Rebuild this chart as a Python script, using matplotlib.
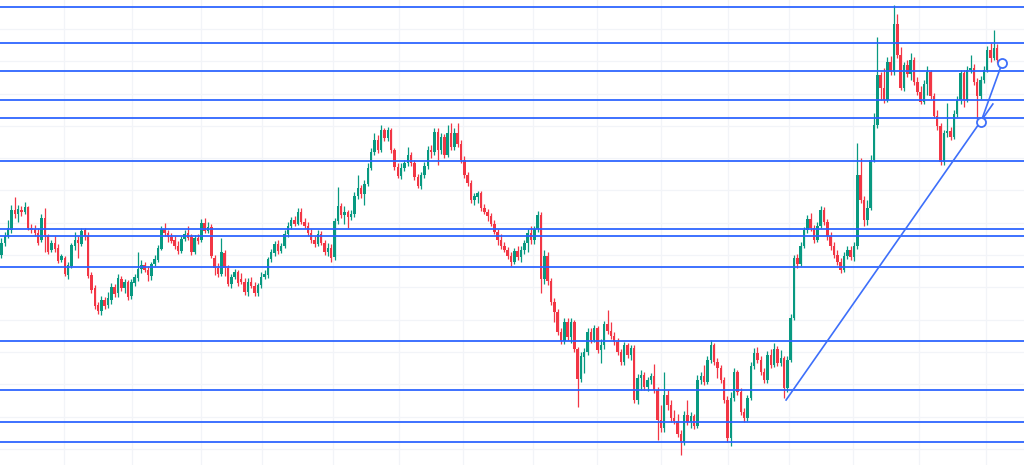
import matplotlib
matplotlib.use("Agg")
import matplotlib.pyplot as plt
import numpy as np

# candle data, price levels measured from the top of the chart (axis is inverted)
opens = [
    255, 243, 236, 230, 210, 214, 210, 212, 207, 228,
    229, 233, 240, 218, 236, 250, 243, 248, 260, 258,
    275, 266, 246, 240, 244, 230, 236, 275, 288, 305,
    311, 300, 305, 300, 287, 293, 279, 288, 282, 296,
    283, 278, 269, 265, 270, 276, 264, 260, 249, 229,
    233, 237, 240, 246, 251, 239, 233, 237, 252, 238,
    240, 223, 231, 227, 258, 268, 274, 253, 268, 284,
    277, 272, 279, 282, 292, 282, 286, 293, 285, 277,
    275, 259, 253, 244, 251, 246, 234, 226, 220, 224,
    212, 222, 226, 233, 240, 244, 234, 243, 252, 248,
    257, 221, 206, 215, 212, 217, 214, 196, 188, 194,
    184, 168, 152, 140, 150, 130, 138, 130, 150, 167,
    176, 168, 163, 155, 163, 177, 186, 175, 166, 150,
    152, 132, 150, 137, 155, 133, 147, 133, 144, 160,
    175, 183, 200, 197, 193, 208, 212, 216, 224, 232,
    240, 246, 250, 256, 262, 251, 257, 250, 243, 233,
    240, 229, 215, 279, 256, 281, 302, 312, 332, 341,
    322, 337, 322, 349, 379, 357, 352, 332, 340, 328,
    350, 345, 324, 331, 336, 342, 352, 362, 345, 355,
    348, 400, 378, 375, 387, 380, 376, 390, 420, 428,
    395, 405, 418, 421, 434, 442, 415, 422, 416, 426,
    380, 376, 382, 360, 345, 362, 368, 380, 400, 438,
    398, 372, 392, 412, 418, 398, 366, 353, 360, 372,
    380, 355, 365, 349, 363, 358, 388, 360, 318, 258,
    264, 246, 230, 219, 228, 240, 226, 210, 222, 236,
    246, 255, 262, 270, 256, 250, 257, 246, 175, 200,
    220, 208, 160, 125, 75, 88, 100, 62, 72, 24,
    55, 88, 65, 74, 60, 82, 92, 102, 84, 72,
    96, 116, 126, 162, 133, 131, 137, 114, 100, 73,
    100, 70, 68, 82, 96, 80, 70, 50, 58, 48,
]
closes = [
    243, 236, 228, 210, 214, 209, 212, 207, 228, 230,
    233, 243, 218, 235, 252, 243, 249, 261, 256, 274,
    265, 245, 240, 243, 231, 236, 276, 290, 306, 311,
    300, 306, 298, 287, 294, 278, 288, 282, 297, 282,
    277, 269, 265, 270, 275, 264, 259, 248, 229, 233,
    237, 241, 246, 251, 239, 234, 238, 252, 238, 241,
    223, 231, 227, 256, 268, 274, 252, 268, 284, 277,
    272, 283, 282, 292, 282, 286, 293, 285, 277, 274,
    259, 252, 244, 251, 246, 234, 226, 220, 224, 212,
    222, 226, 233, 240, 244, 234, 243, 252, 248, 258,
    221, 206, 215, 212, 217, 214, 196, 188, 194, 184,
    168, 152, 140, 150, 130, 138, 130, 150, 167, 176,
    168, 163, 155, 163, 177, 186, 175, 166, 150, 152,
    132, 150, 137, 155, 133, 147, 133, 144, 160, 175,
    183, 200, 196, 193, 208, 212, 216, 224, 232, 240,
    246, 250, 256, 262, 251, 257, 250, 243, 233, 240,
    229, 215, 279, 256, 281, 302, 312, 332, 341, 322,
    337, 322, 349, 379, 356, 352, 332, 340, 328, 350,
    345, 324, 331, 336, 342, 352, 362, 345, 355, 348,
    400, 378, 375, 387, 380, 376, 390, 420, 428, 395,
    405, 418, 421, 434, 442, 415, 422, 416, 426, 380,
    376, 382, 360, 345, 362, 368, 380, 400, 438, 398,
    372, 392, 412, 418, 398, 366, 353, 360, 372, 380,
    355, 365, 349, 363, 358, 388, 360, 318, 258, 264,
    246, 230, 219, 228, 240, 226, 210, 222, 236, 246,
    255, 262, 270, 256, 250, 257, 246, 175, 200, 220,
    208, 160, 125, 75, 88, 100, 62, 72, 24, 55,
    88, 65, 74, 60, 82, 92, 102, 84, 72, 96,
    116, 126, 162, 133, 131, 137, 114, 100, 73, 100,
    70, 68, 82, 96, 80, 70, 50, 58, 48, 60,
]
highs = [
    238, 232, 220, 205, 197, 205, 206, 202, 206, 224,
    225, 228, 214, 208, 234, 240, 236, 244, 254, 256,
    262, 243, 232, 236, 228, 228, 232, 272, 285, 302,
    296, 297, 292, 283, 284, 274, 276, 279, 280, 279,
    274, 252, 260, 262, 266, 262, 255, 245, 226, 223,
    230, 233, 236, 241, 236, 230, 226, 234, 235, 234,
    219, 218, 222, 224, 255, 263, 238, 250, 265, 274,
    269, 270, 273, 278, 278, 277, 282, 283, 272, 270,
    257, 249, 241, 240, 243, 230, 222, 217, 216, 208,
    208, 218, 222, 229, 236, 230, 231, 240, 243, 244,
    218, 187, 203, 206, 210, 210, 192, 175, 185, 180,
    163, 148, 133, 135, 125, 128, 127, 128, 148, 163,
    163, 160, 147, 152, 160, 174, 172, 162, 146, 145,
    128, 128, 133, 134, 125, 123, 128, 123, 140, 156,
    172, 180, 193, 191, 191, 204, 209, 213, 220, 229,
    234, 242, 247, 252, 248, 246, 246, 240, 229, 226,
    226, 211, 212, 250, 252, 278, 298, 309, 328, 318,
    318, 318, 320, 347, 352, 348, 328, 328, 325, 326,
    339, 321, 310, 322, 332, 338, 349, 342, 343, 345,
    345, 374, 370, 372, 377, 373, 364, 387, 405, 372,
    390, 400, 410, 414, 430, 411, 400, 412, 414, 375,
    372, 365, 356, 340, 343, 358, 365, 377, 396, 392,
    368, 370, 388, 408, 395, 362, 348, 347, 356, 368,
    351, 349, 343, 346, 350, 356, 356, 314, 255, 254,
    242, 227, 215, 213, 225, 222, 206, 207, 219, 232,
    242, 250, 258, 252, 246, 246, 242, 143, 158, 196,
    200, 155, 113, 37, 72, 68, 57, 56, 5, 14,
    47, 62, 60, 53, 57, 77, 86, 80, 66, 70,
    93, 110, 123, 130, 103, 127, 110, 96, 70, 70,
    66, 55, 64, 78, 76, 66, 46, 43, 30, 44,
]
lows = [
    258, 246, 238, 233, 218, 222, 216, 214, 230, 233,
    236, 245, 242, 252, 254, 252, 252, 263, 262, 276,
    279, 268, 250, 258, 246, 240, 278, 293, 309, 314,
    315, 309, 308, 304, 297, 297, 291, 293, 300, 299,
    286, 281, 273, 272, 281, 280, 266, 262, 250, 236,
    242, 243, 249, 254, 253, 241, 240, 255, 254, 244,
    242, 233, 233, 258, 275, 277, 276, 276, 286, 288,
    279, 286, 284, 295, 296, 288, 296, 296, 288, 279,
    278, 262, 256, 254, 253, 248, 237, 229, 226, 225,
    224, 228, 236, 243, 247, 246, 245, 255, 256, 262,
    260, 224, 218, 224, 228, 220, 217, 199, 198, 205,
    186, 170, 155, 153, 152, 141, 141, 153, 170, 178,
    179, 171, 166, 166, 180, 188, 189, 178, 169, 158,
    155, 165, 154, 158, 157, 150, 150, 147, 163, 178,
    186, 203, 205, 203, 211, 214, 221, 226, 234, 245,
    249, 252, 259, 266, 264, 260, 262, 254, 252, 244,
    244, 232, 293, 284, 285, 305, 322, 335, 344, 344,
    340, 343, 352, 407, 382, 373, 355, 343, 342, 353,
    363, 349, 334, 339, 345, 355, 365, 365, 358, 360,
    403, 404, 390, 390, 391, 384, 393, 440, 432, 432,
    410, 422, 424, 437, 455, 445, 425, 428, 429, 428,
    384, 385, 384, 363, 365, 378, 383, 403, 442, 446,
    401, 395, 415, 422, 421, 400, 369, 363, 375, 383,
    383, 368, 367, 366, 366, 398, 392, 362, 320, 268,
    266, 248, 233, 231, 243, 242, 228, 225, 240, 250,
    258, 265, 273, 272, 259, 260, 261, 249, 203, 226,
    225, 210, 162, 128, 100, 103, 102, 75, 75, 58,
    90, 91, 77, 80, 85, 95, 104, 104, 95, 99,
    118, 130, 165, 165, 137, 140, 139, 117, 104, 107,
    102, 73, 85, 120, 99, 83, 72, 62, 60, 63,
]

# horizontal support / resistance levels
levels = [7, 43, 71, 100, 118, 161, 229, 236, 267, 341, 390, 422, 442]

# trend lines (candle index, level)
trend_x = [235.6, 297.7]
trend_y = [400, 104]
trend2_x = [294.1, 300.5]
trend2_y = [122, 63]

GREEN = '#089981'
RED = '#f23645'
BLUE = '#2962ff'

o = np.array(opens)
c = np.array(closes)
h = np.array(highs)
l = np.array(lows)
idx = np.arange(len(o))
up = c <= o
cols = np.where(up, GREEN, RED)

fig = plt.figure(figsize=(10.24, 4.65), dpi=100)
ax = fig.add_axes([0, 0, 1, 1])

# grid
for gx in [18.8, 39.2, 59.9, 78.2, 99.5, 119.4, 138.6, 159.6, 178.8, 198.0,
           218.2, 236.5, 255.7, 275.5, 295.7]:
    ax.axvline(gx, color='#f2f4f8', lw=0.9, zorder=0)
for gy in [29, 61, 94, 126, 158, 190, 223, 255, 287, 320, 352, 384, 417, 449]:
    ax.axhline(gy, color='#f2f4f8', lw=0.9, zorder=0)

# candles
ax.vlines(idx, h, l, colors=cols, lw=0.9, zorder=2)
body_bot = np.minimum(o, c)
body_h = np.maximum(np.abs(o - c), 1)
ax.bar(idx, body_h, bottom=body_bot, width=0.74, color=cols, lw=0, zorder=3)

# levels
for lv in levels:
    ax.axhline(lv, color=BLUE, lw=1.4, alpha=0.9, zorder=4)

# trend lines
ax.plot(trend_x, trend_y, color='#3d6ffa', lw=1.2, zorder=5)
ax.plot(trend2_x, trend2_y, color='#3d6ffa', lw=1.2, zorder=5)
ax.plot([trend2_x[0], trend2_x[1]], [trend2_y[0], trend2_y[1]], 'o', ms=6.5,
        mfc='white', mec='#3d6ffa', mew=1.3, zorder=6)

ax.set_xlim(-0.45, 307.05)
ax.set_ylim(465, 0)
ax.axis('off')

fig.savefig('out.png', dpi=100, facecolor='white')
